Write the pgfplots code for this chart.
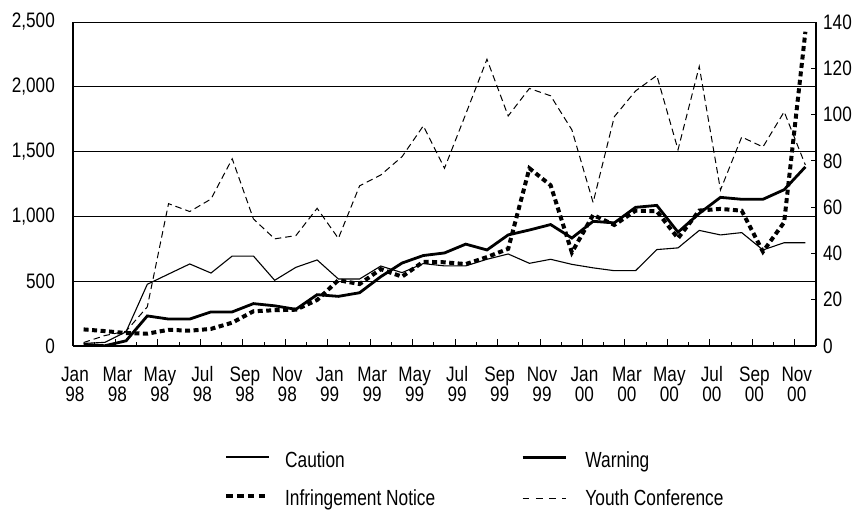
\documentclass[border=0pt]{standalone}
\usepackage{fontspec}
\setmainfont{Liberation Sans}[FakeStretch=0.82]
\newfontfamily\tickfont{Liberation Sans}[FakeStretch=0.82]
\newfontfamily\legfont{Liberation Sans}[FakeStretch=0.79]
\usepackage{pgfplots}
\usepackage{pgfplotstable}
\pgfplotsset{compat=1.18}
\pgfplotstableread{
x caution warning infringe youth
0 20 12 128 1.5
1 28 2 115 4.5
2 110 40 100 6.4
3 476 232 95 16.9
4 555 208 125 61.5
5 633 208 118 58.1
6 563 263 132 63.5
7 694 263 180 80.9
8 694 327 268 54.9
9 507 310 276 46.3
10 607 283 280 47.7
11 664 396 355 59.5
12 517 383 508 46.5
13 517 411 478 69.2
14 617 535 593 73.9
15 566 640 535 81.8
16 636 698 650 95.1
17 618 718 646 76.8
18 618 786 632 100.2
19 669 741 686 123.9
20 710 857 750 99.4
21 638 895 1371 111.3
22 669 937 1240 108.1
23 630 833 722 93.4
24 603 962 1011 62.0
25 581 950 934 99.1
26 581 1070 1044 110.2
27 744 1085 1040 116.9
28 757 878 831 84.8
29 892 1023 1045 120.8
30 857 1147 1058 67.4
31 875 1132 1044 90.3
32 741 1132 728 86.0
33 797 1206 955 101.2
34 797 1382 2425 78.2
}\datatable
\tikzset{
  caution/.style={black, line width=1.1bp},
  warning/.style={black, line width=2.8bp},
  infringe/.style={black, line width=4bp, dash pattern=on 5bp off 3.5bp},
  youth/.style={black, line width=1bp, dash pattern=on 6.5bp off 4bp},
}
\newcommand{\lblfont}{\tickfont\fontsize{21}{20}\selectfont}
\newcommand{\legendfont}{\legfont\fontsize{22}{22}\selectfont}
\begin{document}
\begin{tikzpicture}
\path[use as bounding box] (0,0) rectangle (861bp,514bp);
\begin{axis}[
  at={(73bp,168bp)}, anchor=south west,
  scale only axis, width=743bp, height=324bp,
  xmin=-0.5, xmax=34.5, ymin=0, ymax=2500,
  axis x line*=bottom, axis y line*=left,
  axis line style={black, line width=2.2bp},
  xtick={-0.5,1.5,...,33.5},
  minor xtick={0.5,2.5,...,34.5},
  xticklabels={{Jan\\98},{Mar\\98},{May\\98},{Jul\\98},{Sep\\98},{Nov\\98},{Jan\\99},{Mar\\99},{May\\99},{Jul\\99},{Sep\\99},{Nov\\99},{Jan\\00},{Mar\\00},{May\\00},{Jul\\00},{Sep\\00},{Nov\\00}},
  ytick={0,500,...,2500},
  ymajorgrids, grid style={black, line width=0.8bp},
  tick align=inside,
  major tick length=6.5bp, minor tick length=3.5bp,
  xtick style={black, line width=0.9bp},
  ytick style={draw=none},
  /pgf/number format/assume math mode=true,
  /pgf/number format/1000 sep={,},
  tick label style={font=\lblfont},
  xticklabel style={align=center, inner sep=0pt, anchor=north, yshift=-20.5bp, xshift=2bp},
  yticklabel style={anchor=east, inner sep=0pt, xshift=-18bp},
]
\addplot[caution] table[x=x, y=caution] {\datatable};
\addplot[warning] table[x=x, y=warning] {\datatable};
\addplot[infringe] table[x=x, y=infringe] {\datatable};
\end{axis}
\begin{axis}[
  at={(73bp,168bp)}, anchor=south west,
  scale only axis, width=743bp, height=324bp,
  xmin=-0.5, xmax=34.5, ymin=0, ymax=140,
  axis x line=none, axis y line*=right,
  axis line style={black, line width=2bp},
  ytick={0,20,...,140},
  tick align=inside,
  major tick length=5bp,
  ytick style={black, line width=0.9bp},
  /pgf/number format/assume math mode=true,
  tick label style={font=\lblfont},
  yticklabel style={anchor=west, inner sep=0pt, xshift=7bp},
  legend columns=2,
  legend image code/.code={\draw[#1] (0bp,10bp) -- (43bp,10bp);},
  legend style={draw=none, fill=none, inner sep=0pt, font=\legendfont,
    at={(0.2032,-0.3173)}, anchor=north west,
    row sep=17.4bp,
    cells={anchor=base west, text height=16bp, text depth=4bp, inner sep=0pt},
    /tikz/every odd column/.append style={column sep=12bp},
    /tikz/every even column/.append style={column sep=83.7bp}},
]
\addlegendimage{caution}
\addlegendentry{Caution}
\addlegendimage{black, line width=3bp}
\addlegendentry{\hspace*{4.5bp}Warning}
\addlegendimage{black, line width=4bp, dash pattern=on 6.7bp off 4.1bp}
\addlegendentry{Infringement Notice}
\addplot[youth, legend image code/.code={\draw[black, line width=1bp, dash pattern=on 6.7bp off 6.6bp] (0bp,7bp) -- (43bp,7bp);}] table[x=x, y=youth] {\datatable};
\addlegendentry{\hspace*{4.5bp}Youth Conference}
\end{axis}
\end{tikzpicture}
\end{document}
